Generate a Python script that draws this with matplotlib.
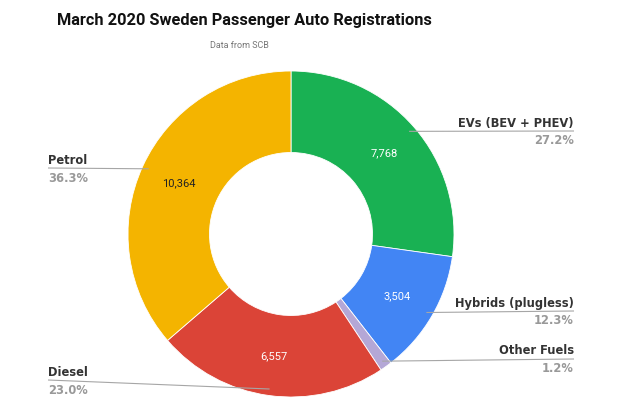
import matplotlib
matplotlib.use("Agg")
import matplotlib.pyplot as plt
import numpy as np

# ---------------------------
# Data
# ---------------------------
labels = ["EVs (BEV + PHEV)", "Hybrids (plugless)", "Other Fuels", "Diesel", "Petrol"]
values = [7768, 3504, 340, 6557, 10364]
pct_labels = ["27.2%", "12.3%", "1.2%", "23.0%", "36.3%"]
show_value = [True, True, False, True, True]
colors = ["#19b153", "#4285f4", "#b4a7d6", "#db4437", "#f4b400"]
value_colors = ["white", "white", "white", "white", "#222222"]

W, H = 640, 398

def py(y):
    """pixel y (from top) -> data y"""
    return H - y

fig = plt.figure(figsize=(6.4, 3.98), dpi=100)
ax = fig.add_axes([0, 0, 1, 1])

cx, cy, R = 291, py(234), 163
wedges, _ = ax.pie(values, colors=colors, startangle=90, counterclock=False,
                   center=(cx, cy), radius=R, frame=True,
                   wedgeprops=dict(width=R * 0.5, edgecolor="white", linewidth=0.6))
ax.set_xlim(0, W)
ax.set_ylim(0, H)
ax.set_aspect("equal")
ax.axis("off")

# label layout: (side, text x, leader line y in pixels)
layout = [("right", 574, 131), ("right", 574, 311), ("right", 574, 359),
          ("left", 48, 380), ("left", 48, 168)]

for w, v, lab, pct, show, vc, (side, tx, ly) in zip(
        wedges, values, labels, pct_labels, show_value, value_colors, layout):
    mid = np.deg2rad((w.theta1 + w.theta2) / 2)
    # value inside ring
    if show:
        r_in = R * 0.755
        ax.text(cx + r_in * np.cos(mid), cy + r_in * np.sin(mid), f"{v:,}",
                ha="center", va="center", fontsize=8, color=vc, family="Roboto")
    # leader line
    r_a = R * 0.96
    axx, ayy = cx + r_a * np.cos(mid), cy + r_a * np.sin(mid)
    ax.plot([axx, tx], [ayy, py(ly)], color="#a6a6a6", lw=0.8, solid_capstyle="butt")
    ha = "right" if side == "right" else "left"
    ax.text(tx, py(ly - 8), lab, ha=ha, va="center", fontsize=8.3,
            fontweight="bold", color="#333333", family="DejaVu Sans")
    ax.text(tx, py(ly + 10), pct, ha=ha, va="center", fontsize=8.3,
            fontweight="bold", color="#999999", family="DejaVu Sans")

ax.text(244, py(20), "March 2020 Sweden Passenger Auto Registrations",
        ha="center", va="center", fontsize=11.8, fontweight="bold",
        color="#111111", family="Roboto")
ax.text(239, py(45), "Data from SCB", ha="center", va="center",
        fontsize=6.5, color="#777777", family="Roboto")

fig.savefig("out.png", dpi=100)
